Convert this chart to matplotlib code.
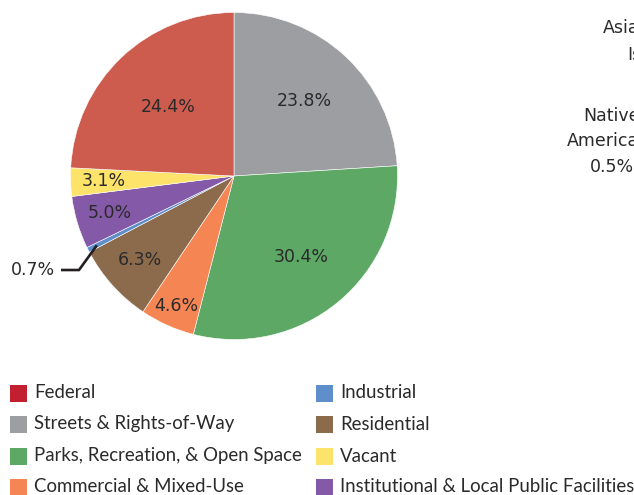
import numpy as np
import matplotlib
matplotlib.use("Agg")
import matplotlib.pyplot as plt
from matplotlib.patches import Rectangle

plt.rcParams['font.family'] = ['Lato', 'DejaVu Sans']
WIDE = ['DejaVu Sans']

# Slices in drawing order (clockwise from 12 o'clock)
categories = ["Streets & Rights-of-Way", "Parks, Recreation, & Open Space",
              "Commercial & Mixed-Use", "Residential", "Industrial",
              "Institutional & Local Public Facilities", "Vacant", "Federal"]
pct_labels = ["23.8%", "30.4%", "4.6%", "6.3%", "0.7%", "5.0%", "3.1%", "24.4%"]
# shares as drawn in the picture (angular size of each slice)
drawn_share = [24.0, 30.0, 5.4, 7.9, 0.5, 5.2, 2.8, 24.2]
slice_colors = ["#9d9ea2", "#5ea866", "#f58654", "#8c6b4d", "#5f8fcb",
                "#8459a8", "#fde36a", "#cd5c4f"]
label_dist = [0.63, 0.64, 0.87, 0.77, None, 0.79, 0.80, 0.58]

legend_items = ["Federal", "Streets & Rights-of-Way", "Parks, Recreation, & Open Space",
                "Commercial & Mixed-Use", "Industrial", "Residential", "Vacant",
                "Institutional & Local Public Facilities"]
legend_colors = ["#c21f30", "#9d9ea2", "#5ea866", "#f58654", "#5f8fcb",
                 "#8c6b4d", "#fde36a", "#8459a8"]

side_texts = [("Asian", 603, 28), ("Islander", 627, 55), ("Native", 583, 116),
              ("American", 567, 141), ("0.5%", 590, 167)]

W, H = 634, 495
fig = plt.figure(figsize=(W / 100, H / 100), dpi=100)
TXT = "#2a2a2a"

cx, cy, r = 234, 176, 163.5
ax = fig.add_axes([(cx - r) / W, (H - cy - r) / H, 2 * r / W, 2 * r / H])
wedges, _ = ax.pie(drawn_share, colors=slice_colors, startangle=90, counterclock=False,
                   radius=1, wedgeprops=dict(edgecolor="white", linewidth=0.4))
ax.set_xlim(-1, 1)
ax.set_ylim(-1, 1)
ax.set_aspect("equal")
ax.axis("off")

for w, lab, d in zip(wedges, pct_labels, label_dist):
    mid = np.deg2rad((w.theta1 + w.theta2) / 2)
    if d is None:
        # callout for the tiny slice
        p0 = (0.94 * np.cos(mid), 0.94 * np.sin(mid))
        elbow = (-0.948, -0.575)
        end = (-1.058, -0.575)
        ax.plot([p0[0], elbow[0], end[0]], [p0[1], elbow[1], end[1]],
                color="#231f20", lw=1.9, clip_on=False, solid_capstyle="butt")
        ax.text(-1.095, -0.575, lab, ha="right", va="center", fontsize=12.5,
                color=TXT, family=WIDE)
    else:
        ax.text(d * np.cos(mid), d * np.sin(mid), lab, ha="center", va="center",
                fontsize=12.5, color=TXT, family=WIDE)

# legend (two columns)
col_x = [10, 316]
row_y = [393, 424, 456, 487]
sq = 17
for i, (name, col) in enumerate(zip(legend_items, legend_colors)):
    x = col_x[i // 4]
    y = row_y[i % 4]
    fig.patches.append(Rectangle((x / W, (H - y - sq / 2) / H), sq / W, sq / H,
                                 transform=fig.transFigure, facecolor=col,
                                 edgecolor="none"))
    fig.text((x + sq + 7) / W, (H - y) / H, name, ha="left", va="center",
             fontsize=13.4, color=TXT)

for t, x, y in side_texts:
    fig.text(x / W, (H - y) / H, t, ha="left", va="center", fontsize=12.5,
             color=TXT, family=WIDE)

fig.savefig("out.png", dpi=100)
